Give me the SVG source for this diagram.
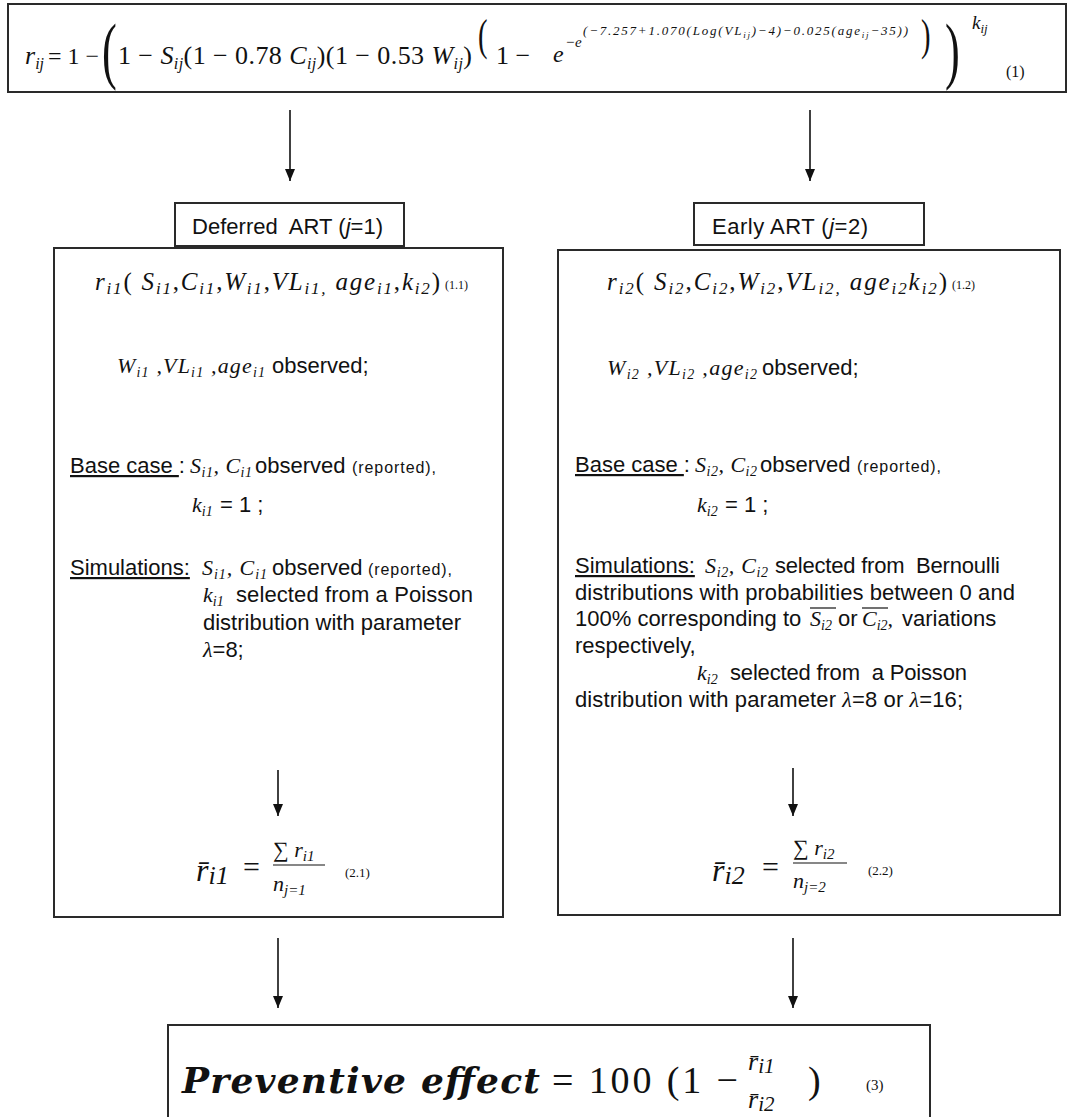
<svg xmlns="http://www.w3.org/2000/svg" width="1074" height="1117" viewBox="0 0 1074 1117">
<defs>
<style>
.box{fill:#fff;stroke:#2a2a2a;stroke-width:2}
.s{font-family:"Liberation Sans",Arial,sans-serif;font-size:22px;fill:#111}
.sm{font-family:"Liberation Sans",Arial,sans-serif;font-size:16px;fill:#111}
.m{font-family:"Liberation Serif","Times New Roman",serif;font-style:italic;fill:#111}
.n{font-family:"Liberation Serif","Times New Roman",serif;font-style:normal;fill:#111}
.b{font-family:"DejaVu Serif",serif;font-style:italic;font-weight:bold;fill:#111}
.u{text-decoration:underline}
.ar{stroke:#111;stroke-width:1.6;fill:none;marker-end:url(#ah)}
.ol{stroke:#111;stroke-width:1.2}
</style>
<marker id="ah" viewBox="0 0 12 10" refX="12" refY="5" markerWidth="12" markerHeight="10" markerUnits="userSpaceOnUse" orient="auto">
<path d="M0,0 L12,5 L0,10 z" fill="#111"/>
</marker>
</defs>
<rect width="1074" height="1117" fill="#fff"/>

<g id="formula-top">
<rect class="box" x="8" y="4" width="1058" height="88"/>
<text class="m" x="25" y="64" font-size="26">r<tspan font-size="16" dy="5">ij</tspan></text>
<text class="n" x="48" y="64" font-size="24">= 1 −</text>
<text class="n" font-size="74" transform="translate(102,75) scale(0.6,1)">(</text>
<text class="n" x="118" y="64" font-size="26" textLength="354" lengthAdjust="spacing">1 − <tspan class="m">S</tspan><tspan class="m" font-size="16" dy="5">ij</tspan><tspan dy="-5">(1 − 0.78 </tspan><tspan class="m">C</tspan><tspan class="m" font-size="16" dy="5">ij</tspan><tspan dy="-5">)(1 − 0.53 </tspan><tspan class="m">W</tspan><tspan class="m" font-size="16" dy="5">ij</tspan><tspan dy="-5">)</tspan></text>
<text class="n" font-size="44" transform="translate(478,50) scale(0.65,1)">(</text>
<text class="n" x="496" y="64" font-size="26">1 −</text>
<text class="m" x="553" y="62" font-size="24">e</text>
<text class="m" x="565" y="47" font-size="15">−e</text>
<text class="m" x="583" y="35" font-size="13" textLength="325" lengthAdjust="spacing">(−7.257+1.070(Log(VL<tspan font-size="9" dy="3">ij</tspan><tspan dy="-3">)−4)−0.025(age</tspan><tspan font-size="9" dy="3">ij</tspan><tspan dy="-3">−35))</tspan></text>
<text class="n" font-size="44" transform="translate(921,50) scale(0.65,1)">)</text>
<text class="n" font-size="74" transform="translate(945,75) scale(0.6,1)">)</text>
<text class="m" x="972" y="29" font-size="19">k<tspan font-size="13" dy="4">ij</tspan></text>
<text class="n" x="1006" y="77" font-size="16">(1)</text>
</g>

<g id="deferred-label">
<rect class="box" x="175" y="203" width="229" height="43"/>
<text class="s" x="192" y="234" xml:space="preserve" textLength="191" lengthAdjust="spacing">Deferred  ART (<tspan font-style="italic">j</tspan>=1)</text>
</g>

<g id="early-label">
<rect class="box" x="694" y="203" width="230" height="42"/>
<text class="s" x="712" y="234" textLength="156" lengthAdjust="spacing">Early ART (<tspan font-style="italic">j</tspan>=2)</text>
</g>

<g id="deferred-box">
<rect class="box" x="54" y="248" width="449" height="669"/>
<text class="m" x="95" y="290" font-size="25" textLength="345" lengthAdjust="spacing">r<tspan font-size="17" dy="4">i1</tspan><tspan class="n" dy="-4">( </tspan>S<tspan font-size="17" dy="4">i1</tspan><tspan class="n" dy="-4">,</tspan>C<tspan font-size="17" dy="4">i1</tspan><tspan class="n" dy="-4">,</tspan>W<tspan font-size="17" dy="4">i1</tspan><tspan class="n" dy="-4">,</tspan>VL<tspan font-size="17" dy="4">i1,</tspan><tspan dy="-4"> age</tspan><tspan font-size="17" dy="4">i1</tspan><tspan class="n" dy="-4">,</tspan>k<tspan font-size="17" dy="4">i2</tspan><tspan class="n" dy="-4">)</tspan></text>
<text class="n" x="445" y="289" font-size="12">(1.1)</text>

<text class="m" x="117" y="373" font-size="22" textLength="148" lengthAdjust="spacing">W<tspan font-size="14" dy="4">i1</tspan><tspan dy="-4"> ,VL</tspan><tspan font-size="14" dy="4">i1</tspan><tspan dy="-4"> ,age</tspan><tspan font-size="14" dy="4">i1</tspan></text>
<text class="s" x="272" y="373">observed;</text>

<text class="s" x="70" y="473" xml:space="preserve"><tspan class="u">Base case </tspan>:</text>
<text class="m" x="190" y="473" font-size="22" textLength="62" lengthAdjust="spacing">S<tspan font-size="14" dy="4">i1</tspan><tspan dy="-4">, C</tspan><tspan font-size="14" dy="4">i1</tspan></text>
<text class="s" x="255" y="473">observed</text>
<text class="sm" x="352" y="473" textLength="84" lengthAdjust="spacing">(reported),</text>
<text class="m" x="192" y="512" font-size="22">k<tspan font-size="14" dy="4">i1</tspan></text>
<text class="s" x="220" y="512">= 1 ;</text>

<text class="s" x="70" y="575"><tspan class="u">Simulations:</tspan></text>
<text class="m" x="202" y="575" font-size="22" textLength="65" lengthAdjust="spacing">S<tspan font-size="14" dy="4">i1</tspan><tspan dy="-4">, C</tspan><tspan font-size="14" dy="4">i1</tspan></text>
<text class="s" x="272" y="575">observed</text>
<text class="sm" x="368" y="575" textLength="84" lengthAdjust="spacing">(reported),</text>
<text class="m" x="203" y="602" font-size="22">k<tspan font-size="14" dy="4">i1</tspan></text>
<text class="s" x="236" y="602" textLength="237" lengthAdjust="spacing">selected from a Poisson</text>
<text class="s" x="203" y="630">distribution with parameter</text>
<text class="s" x="203" y="657"><tspan class="m">λ</tspan>=8;</text>

<text class="m" x="196" y="881" font-size="32">r̄<tspan font-size="26" dy="3">i1</tspan></text>
<text class="n" x="243" y="877" font-size="30">=</text>
<text class="m" x="273" y="857" font-size="22">∑<tspan> r</tspan><tspan font-size="15" dy="4">i1</tspan></text>
<line class="ol" x1="273" y1="865" x2="325" y2="865"/>
<text class="m" x="273" y="891" font-size="22">n<tspan font-size="15" dy="4">j=1</tspan></text>
<text class="n" x="345" y="877" font-size="13">(2.1)</text>
</g>

<g id="early-box">
<rect class="box" x="558" y="250" width="502" height="665"/>
<text class="m" x="607" y="290" font-size="25" textLength="340" lengthAdjust="spacing">r<tspan font-size="17" dy="4">i2</tspan><tspan class="n" dy="-4">( </tspan>S<tspan font-size="17" dy="4">i2</tspan><tspan class="n" dy="-4">,</tspan>C<tspan font-size="17" dy="4">i2</tspan><tspan class="n" dy="-4">,</tspan>W<tspan font-size="17" dy="4">i2</tspan><tspan class="n" dy="-4">,</tspan>VL<tspan font-size="17" dy="4">i2,</tspan><tspan dy="-4"> age</tspan><tspan font-size="17" dy="4">i2</tspan><tspan dy="-4">k</tspan><tspan font-size="17" dy="4">i2</tspan><tspan class="n" dy="-4">)</tspan></text>
<text class="n" x="952" y="289" font-size="12">(1.2)</text>

<text class="m" x="607" y="375" font-size="22" textLength="150" lengthAdjust="spacing">W<tspan font-size="14" dy="4">i2</tspan><tspan dy="-4"> ,VL</tspan><tspan font-size="14" dy="4">i2</tspan><tspan dy="-4"> ,age</tspan><tspan font-size="14" dy="4">i2</tspan></text>
<text class="s" x="762" y="375">observed;</text>

<text class="s" x="575" y="472" xml:space="preserve"><tspan class="u">Base case </tspan>:</text>
<text class="m" x="695" y="472" font-size="22" textLength="62" lengthAdjust="spacing">S<tspan font-size="14" dy="4">i2</tspan><tspan dy="-4">, C</tspan><tspan font-size="14" dy="4">i2</tspan></text>
<text class="s" x="760" y="472">observed</text>
<text class="sm" x="857" y="472" textLength="84" lengthAdjust="spacing">(reported),</text>
<text class="m" x="697" y="512" font-size="22">k<tspan font-size="14" dy="4">i2</tspan></text>
<text class="s" x="725" y="512">= 1 ;</text>

<text class="s" x="575" y="573"><tspan class="u">Simulations:</tspan></text>
<text class="m" x="705" y="573" font-size="22" textLength="63" lengthAdjust="spacing">S<tspan font-size="14" dy="4">i2</tspan><tspan dy="-4">, C</tspan><tspan font-size="14" dy="4">i2</tspan></text>
<text class="s" x="775" y="573" xml:space="preserve" textLength="225" lengthAdjust="spacing">selected from  Bernoulli</text>
<text class="s" x="575" y="600" textLength="440" lengthAdjust="spacing">distributions with probabilities between 0 and</text>
<text class="s" x="575" y="626">100% corresponding to</text>
<text class="m" x="810" y="626" font-size="22">S<tspan font-size="14" dy="4">i2</tspan></text>
<line class="ol" x1="810" y1="608" x2="836" y2="608"/>
<text class="s" x="838" y="626">or</text>
<text class="m" x="862" y="626" font-size="22">C<tspan font-size="14" dy="4">i2</tspan><tspan dy="-4">,</tspan></text>
<line class="ol" x1="862" y1="608" x2="888" y2="608"/>
<text class="s" x="902" y="626">variations</text>
<text class="s" x="575" y="653">respectively,</text>
<text class="m" x="697" y="680" font-size="22">k<tspan font-size="14" dy="4">i2</tspan></text>
<text class="s" x="730" y="680" xml:space="preserve" textLength="237" lengthAdjust="spacing">selected from  a Poisson</text>
<text class="s" x="575" y="707" textLength="388" lengthAdjust="spacing">distribution with parameter <tspan class="m">λ</tspan>=8 or <tspan class="m">λ</tspan>=16;</text>

<text class="m" x="712" y="881" font-size="32">r̄<tspan font-size="26" dy="3">i2</tspan></text>
<text class="n" x="762" y="877" font-size="30">=</text>
<text class="m" x="793" y="855" font-size="22">∑<tspan> r</tspan><tspan font-size="15" dy="4">i2</tspan></text>
<line class="ol" x1="793" y1="863" x2="847" y2="863"/>
<text class="m" x="793" y="888" font-size="22">n<tspan font-size="15" dy="4">j=2</tspan></text>
<text class="n" x="868" y="875" font-size="13">(2.2)</text>
</g>

<g id="preventive-box">
<rect class="box" x="168" y="1025" width="762" height="110"/>
<text class="b" x="182" y="1093" font-size="36" textLength="358" lengthAdjust="spacing">Preventive effect</text>
<text class="n" x="552" y="1093" font-size="38" textLength="186" lengthAdjust="spacing">= 100 (1 −</text>
<text class="m" x="748" y="1070" font-size="26">r̄<tspan font-size="21" dy="3">i1</tspan></text>
<text class="m" x="748" y="1108" font-size="26">r̄<tspan font-size="21" dy="3">i2</tspan></text>
<text class="n" x="808" y="1093" font-size="38">)</text>
<text class="n" x="866" y="1090" font-size="15">(3)</text>
</g>

<g id="connectors">
<line class="ar" x1="290" y1="110" x2="290" y2="181"/>
<line class="ar" x1="810" y1="110" x2="810" y2="181"/>
<line class="ar" x1="278" y1="770" x2="278" y2="816"/>
<line class="ar" x1="793" y1="768" x2="793" y2="816"/>
<line class="ar" x1="278" y1="938" x2="278" y2="1008"/>
<line class="ar" x1="793" y1="938" x2="793" y2="1008"/>
</g>
</svg>
